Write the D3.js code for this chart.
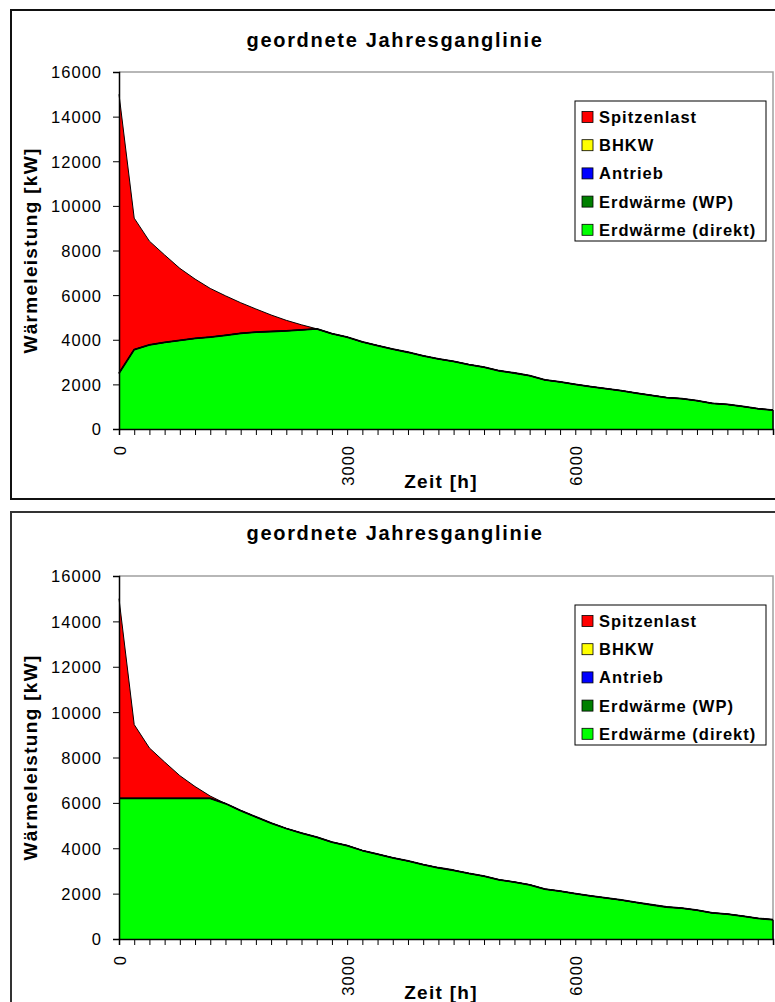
<!DOCTYPE html>
<html>
<head>
<meta charset="utf-8">
<script src="https://cdn.jsdelivr.net/npm/d3@7"></script>
<style>
  html, body { margin: 0; padding: 0; background: #fff; }
  svg { display: block; }
  text { font-family: "Liberation Sans", Arial, sans-serif; fill: #000; }
</style>
</head>
<body>
<svg id="chart" width="775" height="1002"></svg>
<script>
// Hours of the sorted annual load curve (category axis, one point per 200 h)
const hours = [0,200,400,600,800,1000,1200,1400,1600,1800,2000,2200,2400,2600,2800,3000,3200,3400,3600,3800,
  4000,4200,4400,4600,4800,5000,5200,5400,5600,5800,6000,6200,6400,6600,6800,7000,7200,7400,7600,7800,
  8000,8200,8400,8600];

const seriesNames = ["Erdwärme (direkt)", "Erdwärme (WP)", "Antrieb", "BHKW", "Spitzenlast"];
const seriesColors = ["#00ff00", "#008000", "#0000ff", "#ffff00", "#ff0000"];
const legendOrder = ["Spitzenlast", "BHKW", "Antrieb", "Erdwärme (WP)", "Erdwärme (direkt)"];

const yTicks = [0, 2000, 4000, 6000, 8000, 10000, 12000, 14000, 16000];
const xLabels = [0, 3000, 6000];

const zeroSeries = [0,0,0,0,0,0,0,0,0,0,0,0,0,0,0,0,0,0,0,0,0,0,0,0,0,0,0,0,0,0,0,0,0,0,0,0,0,0,0,0,0,0,0,0];

// Variant 1: direct geothermal limited by the source temperature in winter
const direktA = [2500,3560,3770,3880,3970,4060,4120,4200,4290,4340,4370,4400,4440,4490,4270,4120,3900,3740,3580,3440,
  3280,3140,3030,2890,2770,2610,2510,2390,2200,2110,2000,1900,1810,1720,1610,1510,1410,1360,1270,1150,
  1100,1010,910,850];
const spitzeA = [12500,5890,4650,3920,3230,2660,2180,1770,1370,1040,740,470,230,0,0,0,0,0,0,0,
  0,0,0,0,0,0,0,0,0,0,0,0,0,0,0,0,0,0,0,0,0,0,0,0];

// Variant 2: direct geothermal capped at 6200 kW
const direktB = [6200,6200,6200,6200,6200,6200,6200,5970,5660,5380,5110,4870,4670,4490,4270,4120,3900,3740,3580,3440,
  3280,3140,3030,2890,2770,2610,2510,2390,2200,2110,2000,1900,1810,1720,1610,1510,1410,1360,1270,1150,
  1100,1010,910,850];
const spitzeB = [8800,3250,2220,1600,1000,520,100,0,0,0,0,0,0,0,0,0,0,0,0,0,
  0,0,0,0,0,0,0,0,0,0,0,0,0,0,0,0,0,0,0,0,0,0,0,0];

const svg = d3.select("#chart");

function drawChart(cfg) {
  const g = svg.append("g");
  const left = 119, right = 773;

  // outer frame
  g.append("rect")
    .attr("x", 11).attr("y", cfg.frameTop)
    .attr("width", 790).attr("height", cfg.frameBottom - cfg.frameTop)
    .attr("fill", "#fff").attr("stroke", cfg.frameColor).attr("stroke-width", 2);

  const x = d3.scaleLinear().domain([0, 8600]).range([left, right]);
  const y = d3.scaleLinear().domain([0, 16000]).range([cfg.plotBottom, cfg.plotTop]);

  // plot area border (top and right)
  g.append("path")
    .attr("d", `M${left},${cfg.plotTop}H${right}V${cfg.plotBottom}`)
    .attr("fill", "none").attr("stroke", "#a0a0a0").attr("stroke-width", 1.5);

  const rows = hours.map((h, i) => ({
    h,
    "Erdwärme (direkt)": cfg.direkt[i],
    "Erdwärme (WP)": zeroSeries[i],
    "Antrieb": zeroSeries[i],
    "BHKW": zeroSeries[i],
    "Spitzenlast": cfg.spitze[i]
  }));
  const stacked = d3.stack().keys(seriesNames)(rows);

  const area = d3.area()
    .x(d => x(d.data.h)).y0(d => y(d[0])).y1(d => y(d[1]));
  const topLine = d3.line().x(d => x(d.data.h)).y(d => y(d[1]));

  g.selectAll("path.area").data(stacked).join("path")
    .attr("class", "area")
    .attr("d", area)
    .attr("fill", (d, i) => seriesColors[i]);

  // right edge of the filled region
  const last = stacked[stacked.length - 1];
  g.append("line")
    .attr("x1", right).attr("x2", right)
    .attr("y1", y(0)).attr("y2", y(last[last.length - 1][1]))
    .attr("stroke", "#000").attr("stroke-width", 1.5);

  // series outlines: the stacked zero series sit on top of the green edge
  g.selectAll("path.edge").data(stacked).join("path")
    .attr("class", "edge")
    .attr("d", topLine)
    .attr("fill", "none").attr("stroke", "#000")
    .attr("stroke-width", (d, i) => i === stacked.length - 1 ? 1 : (i === 0 ? 1.8 : 0.8))
    .attr("stroke-linejoin", "round");

  // y axis
  const yAxis = d3.axisLeft(y).tickValues(yTicks).tickSize(6).tickPadding(11)
    .tickFormat(d3.format("d"));
  const ya = g.append("g").attr("transform", `translate(${left},0)`).call(yAxis);
  ya.select(".domain").attr("stroke", "#000").attr("stroke-width", 1.5);
  ya.selectAll(".tick line").attr("stroke", "#000").attr("stroke-width", 1);
  ya.selectAll(".tick text")
    .style("font-size", "16.5px").style("letter-spacing", "1px")
    .attr("dy", "0.36em").attr("font-family", null);

  // x axis: tick per category, labels at 0 / 3000 / 6000
  const xAxis = d3.axisBottom(x).tickValues(hours).tickSize(6)
    .tickFormat(d => xLabels.includes(d) ? String(d) : "");
  const xa = g.append("g").attr("transform", `translate(0,${cfg.plotBottom})`).call(xAxis);
  xa.select(".domain").attr("stroke", "#000").attr("stroke-width", 1.5);
  xa.selectAll(".tick line").attr("stroke", "#000").attr("stroke-width", 1);
  xa.selectAll(".tick text")
    .attr("font-family", null)
    .style("font-size", "16.5px").style("letter-spacing", "1px")
    .attr("text-anchor", "end")
    .attr("x", 0).attr("y", 0).attr("dy", null)
    .attr("dominant-baseline", "central")
    .attr("transform", `translate(0,${cfg.xLabelTop - cfg.plotBottom}) rotate(-90)`);

  // title and axis titles
  g.append("text")
    .attr("x", 395).attr("y", cfg.titleY)
    .attr("text-anchor", "middle").attr("dominant-baseline", "central")
    .style("font-size", "20px").style("font-weight", "bold").style("letter-spacing", "1.7px")
    .text("geordnete Jahresganglinie");

  g.append("text")
    .attr("transform", `translate(30,${(cfg.plotTop + cfg.plotBottom) / 2}) rotate(-90)`)
    .attr("text-anchor", "middle").attr("dominant-baseline", "central")
    .style("font-size", "19px").style("font-weight", "bold").style("letter-spacing", "1.3px")
    .text("Wärmeleistung [kW]");

  g.append("text")
    .attr("x", 441).attr("y", cfg.zeitY)
    .attr("text-anchor", "middle").attr("dominant-baseline", "central")
    .style("font-size", "19px").style("font-weight", "bold").style("letter-spacing", "1.3px")
    .text("Zeit [h]");

  // legend
  const lg = g.append("g").attr("transform", `translate(575,${cfg.legendTop})`);
  lg.append("rect").attr("x", 0).attr("y", 0).attr("width", 191).attr("height", 140)
    .attr("fill", "#fff").attr("stroke", "#000").attr("stroke-width", 1);
  legendOrder.forEach((name, i) => {
    const cy = 16 + i * 28.2;
    lg.append("rect")
      .attr("x", 7).attr("y", cy - 5.5).attr("width", 11).attr("height", 11)
      .attr("fill", seriesColors[seriesNames.indexOf(name)])
      .attr("stroke", "#000").attr("stroke-width", 0.8);
    lg.append("text")
      .attr("x", 24).attr("y", cy)
      .attr("dominant-baseline", "central")
      .style("font-size", "16.5px").style("font-weight", "bold").style("letter-spacing", "1px")
      .text(name);
  });
}

drawChart({
  frameTop: 10, frameBottom: 499, frameColor: "#111",
  plotTop: 72, plotBottom: 429,
  titleY: 40, xLabelTop: 445, zeitY: 481, legendTop: 101,
  direkt: direktA, spitze: spitzeA
});

drawChart({
  frameTop: 512, frameBottom: 1020, frameColor: "#333",
  plotTop: 576, plotBottom: 939,
  titleY: 533, xLabelTop: 955, zeitY: 992, legendTop: 605,
  direkt: direktB, spitze: spitzeB
});
</script>
</body>
</html>
